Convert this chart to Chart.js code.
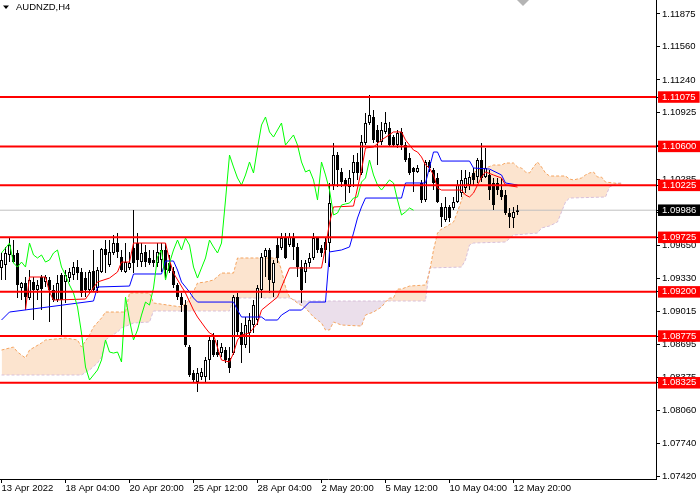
<!DOCTYPE html>
<html><head><meta charset="utf-8">
<script src="https://cdn.jsdelivr.net/npm/chart.js@4.4.1/dist/chart.umd.min.js"></script>
<style>html,body{margin:0;padding:0;background:#fff}#wrap{position:relative;width:700px;height:500px}</style>
</head><body><div id="wrap"><canvas id="c"></canvas></div>
<script>
const symbolTitle = 'AUDNZD,H4';
const dateLabels = ['13 Apr 2022','18 Apr 04:00','20 Apr 20:00','25 Apr 12:00','28 Apr 04:00','2 May 20:00','5 May 12:00','10 May 04:00','12 May 20:00'];
const dateTickBars = [0,16,32,48,64,80,96,112,128];
const priceTicks = [1.11875,1.11560,1.11240,1.10925,1.10605,1.10285,1.09965,1.09650,1.09330,1.09015,1.08695,1.08375,1.08060,1.07740,1.07420];
const levels = [1.11075,1.10600,1.10225,1.09725,1.09200,1.08775,1.08325];
const lastPrice = 1.09986;

const open = [1.09430,1.09458,1.09555,1.09555,1.09574,1.09237,1.09285,1.09141,1.09295,1.09218,
1.09343,1.09295,1.09314,1.09218,1.09121,1.09362,1.09295,1.09333,1.09362,1.09439,
1.09391,1.09333,1.09218,1.09401,1.09237,1.09391,1.09612,1.09458,1.09574,1.09670,
1.09535,1.09391,1.09430,1.09622,1.09670,1.09487,1.09584,1.09526,1.09507,1.09478,
1.09507,1.09603,1.09478,1.09401,1.09266,1.09150,1.09073,1.08669,1.08419,1.08332,
1.08380,1.08380,1.08544,1.08737,1.08621,1.08611,1.08640,1.08563,1.08611,1.09150,
1.08814,1.08688,1.08804,1.08881,1.08929,1.09218,1.09535,1.09603,1.09285,1.09651,
1.09622,1.09718,1.09651,1.09718,1.09632,1.09439,1.09391,1.09478,1.09526,1.09718,
1.09622,1.09680,1.09670,1.10228,1.10517,1.10354,1.10277,1.10209,1.10344,1.10450,
1.10344,1.10633,1.10825,1.10883,1.10758,1.10642,1.10739,1.10777,1.10690,1.10613,
1.10739,1.10613,1.10488,1.10392,1.10354,1.10248,1.10084,1.10450,1.10373,1.10296,
1.10017,1.09892,1.10017,1.10007,1.10065,1.10151,1.10200,1.10228,1.10344,1.10305,
1.10469,1.10305,1.10325,1.10248,1.10248,1.10180,1.10132,1.09959,1.09911,1.09969];
const high = [1.09574,1.09632,1.09718,1.09699,1.09603,1.09295,1.09343,1.09410,1.09343,1.09314,
1.09362,1.09362,1.09343,1.09266,1.09362,1.09381,1.09410,1.09430,1.09487,1.09507,
1.09430,1.09391,1.09410,1.09603,1.09439,1.09622,1.09699,1.09699,1.09747,1.09766,
1.09603,1.09670,1.09584,1.09988,1.09766,1.09670,1.09651,1.09603,1.09603,1.09670,
1.09670,1.09670,1.09555,1.09439,1.09285,1.09189,1.09121,1.08688,1.08448,1.08467,
1.08467,1.08573,1.08785,1.08804,1.08737,1.08708,1.08669,1.08669,1.09170,1.09189,
1.08900,1.08958,1.08996,1.09121,1.09266,1.09574,1.09622,1.09622,1.09507,1.09728,
1.09766,1.09766,1.09766,1.09766,1.09670,1.09507,1.09507,1.09574,1.09766,1.09728,
1.09651,1.09728,1.10248,1.10633,1.10546,1.10392,1.10296,1.10373,1.10517,1.10536,
1.10710,1.10921,1.11095,1.10950,1.10806,1.10835,1.10931,1.10835,1.10710,1.10758,
1.10777,1.10642,1.10536,1.10402,1.10421,1.10277,1.10469,1.10469,1.10392,1.10344,
1.10055,1.10113,1.10036,1.10113,1.10277,1.10373,1.10373,1.10354,1.10392,1.10488,
1.10633,1.10585,1.10373,1.10296,1.10296,1.10296,1.10180,1.10007,1.10017,1.10036];
const low = [1.09314,1.09314,1.09487,1.09478,1.09141,1.09121,1.09025,1.09121,1.08929,1.09121,
1.09025,1.09247,1.08910,1.09102,1.09102,1.08765,1.09093,1.09295,1.09314,1.09314,
1.09150,1.09150,1.09189,1.09199,1.09189,1.09381,1.09381,1.09439,1.09555,1.09526,
1.09391,1.09381,1.09410,1.09381,1.09439,1.09439,1.09439,1.09458,1.09439,1.09439,
1.09391,1.09333,1.09381,1.09237,1.09121,1.09006,1.08669,1.08380,1.08323,1.08236,
1.08352,1.08332,1.08352,1.08573,1.08573,1.08573,1.08515,1.08419,1.08592,1.08765,
1.08515,1.08660,1.08611,1.08804,1.08881,1.09141,1.09343,1.09189,1.09150,1.09478,
1.09603,1.09516,1.09632,1.09507,1.09343,1.09093,1.09285,1.09439,1.09507,1.09574,
1.09535,1.09478,1.09439,1.10180,1.10209,1.10209,1.10065,1.10151,1.10209,1.10277,
1.10325,1.10613,1.10806,1.10633,1.10421,1.10613,1.10719,1.10594,1.10594,1.10585,
1.10565,1.10450,1.10325,1.10161,1.10344,1.10055,1.10065,1.10354,1.10180,1.10055,
1.09824,1.09872,1.09872,1.09988,1.10055,1.10113,1.10151,1.10180,1.10228,1.10248,
1.10257,1.10296,1.10084,1.09988,1.10132,1.10084,1.09940,1.09815,1.09815,1.09940];
const close = [1.09507,1.09574,1.09651,1.09487,1.09266,1.09285,1.09150,1.09314,1.09218,1.09266,
1.09227,1.09343,1.09218,1.09121,1.09285,1.09121,1.09362,1.09391,1.09439,1.09381,
1.09189,1.09218,1.09391,1.09218,1.09410,1.09612,1.09555,1.09584,1.09670,1.09584,
1.09410,1.09487,1.09478,1.09478,1.09507,1.09574,1.09487,1.09478,1.09478,1.09584,
1.09603,1.09410,1.09401,1.09266,1.09150,1.09073,1.08688,1.08400,1.08352,1.08419,
1.08429,1.08544,1.08737,1.08592,1.08592,1.08669,1.08544,1.08467,1.09150,1.08814,
1.08688,1.08881,1.08929,1.09073,1.09237,1.09535,1.09603,1.09314,1.09478,1.09526,
1.09718,1.09526,1.09728,1.09632,1.09439,1.09218,1.09478,1.09526,1.09718,1.09603,
1.09574,1.09603,1.10055,1.10517,1.10373,1.10257,1.10228,1.10296,1.10450,1.10344,
1.10642,1.10825,1.10902,1.10662,1.10642,1.10758,1.10825,1.10613,1.10613,1.10729,
1.10613,1.10469,1.10344,1.10354,1.10392,1.10084,1.10450,1.10392,1.10248,1.10065,
1.09920,1.10017,1.09911,1.10065,1.10228,1.10277,1.10296,1.10305,1.10277,1.10469,
1.10296,1.10392,1.10180,1.10036,1.10180,1.10113,1.09959,1.09920,1.09969,1.09986];

const tenkanBar = [6,7,11,12,13,21,24,27,29,30,32,33,41,42,43,46,48,49,51,52,53,55,57,58,59,60,62,64,65,69,70,72,80,81,82,83,88,90,91,93,95,98,100,101,102,103,104,105,106,107,108,109,110,115,116,117,118,119,120,121,123,125,126,129];
const tenkanVal = [1.09025,1.09343,1.09343,1.09199,1.09121,1.09131,1.09295,1.09333,1.09391,1.09487,1.09487,1.09670,1.09670,1.09507,1.09381,1.09189,1.09025,1.08958,1.08852,1.08804,1.08785,1.08544,1.08525,1.08611,1.08737,1.08785,1.08804,1.08900,1.09025,1.09150,1.09247,1.09430,1.09430,1.09632,1.09863,1.10017,1.10026,1.10373,1.10585,1.10594,1.10662,1.10739,1.10739,1.10662,1.10613,1.10565,1.10546,1.10498,1.10421,1.10392,1.10325,1.10200,1.10180,1.10180,1.10132,1.10113,1.10151,1.10228,1.10305,1.10354,1.10325,1.10296,1.10228,1.10209];

const kijunBar = [0,2,23,24,32,33,40,41,43,44,45,47,48,49,58,59,60,65,66,69,70,72,75,77,81,82,85,87,88,89,90,91,100,101,106,108,109,110,117,118,122,125,126,129];
const kijunVal = [1.08929,1.09006,1.09112,1.09247,1.09256,1.09372,1.09372,1.09497,1.09497,1.09410,1.09295,1.09199,1.09141,1.09102,1.09102,1.09025,1.08958,1.08958,1.08929,1.08929,1.08977,1.09025,1.09025,1.09102,1.09102,1.09584,1.09603,1.09632,1.09766,1.09911,1.10017,1.10103,1.10103,1.10248,1.10248,1.10546,1.10546,1.10459,1.10459,1.10392,1.10382,1.10325,1.10248,1.10228];

const chikouBar = [0,2,3,4,5,6,7,8,9,10,11,12,13,14,15,16,17,18,19,20,21,22,23,24,25,26,27,28,29,30,31,32,33,34,35,36,37,38,39,40,41,42,43,44,45,46,47,48,49,50,51,52,53,54,55,56,57,58,59,60,61,62,63,64,65,66,67,68,69,70,71,72,73,74,75,76,77,78,79,80,81,82,83,84,85,86,87,88,89,90,91,92,93,94,95,96,97,98,99,100,101,102,103];
const chikouVal = [1.09574,1.09670,1.09478,1.09439,1.09487,1.09439,1.09670,1.09555,1.09526,1.09555,1.09487,1.09507,1.09574,1.09603,1.09439,1.09362,1.09266,1.09189,1.09054,1.08804,1.08477,1.08352,1.08400,1.08448,1.08544,1.08737,1.08621,1.08611,1.08621,1.08525,1.09150,1.08929,1.08737,1.08833,1.08977,1.09102,1.09073,1.09237,1.09535,1.09603,1.09314,1.09478,1.09603,1.09699,1.09603,1.09718,1.09651,1.09439,1.09333,1.09430,1.09526,1.09699,1.09632,1.09574,1.09670,1.10084,1.10517,1.10402,1.10296,1.10228,1.10325,1.10450,1.10344,1.10585,1.10806,1.10883,1.10739,1.10690,1.10758,1.10825,1.10613,1.10662,1.10710,1.10613,1.10450,1.10354,1.10373,1.10277,1.10084,1.10450,1.10325,1.10180,1.09940,1.09959,1.10036,1.10046,1.10055,1.10103,1.10113,1.10257,1.10296,1.10469,1.10325,1.10228,1.10180,1.10228,1.10277,1.10248,1.10084,1.09940,1.09969,1.10007,1.09986];

const spanABar = [0,3,4,6,7,10,11,16,19,20,22,23,25,26,31,32,37,38,45,47,49,51,53,55,58,59,69,70,71,72,73,74,76,78,80,81,82,83,85,90,91,93,95,96,97,98,99,100,102,106,107,108,109,110,111,113,114,115,116,118,119,121,123,125,126,128,129,130,131,132,133,134,135,136,137,141,142,143,145,146,147,148,149,150,151,153,155];
const spanAVal = [1.08640,1.08669,1.08621,1.08563,1.08640,1.08708,1.08737,1.08756,1.08737,1.08669,1.08785,1.08862,1.08948,1.09006,1.09006,1.09189,1.09189,1.09093,1.09054,1.09121,1.09285,1.09295,1.09314,1.09381,1.09381,1.09526,1.09526,1.09410,1.09247,1.09150,1.09121,1.09093,1.09045,1.08958,1.08900,1.08833,1.08833,1.08910,1.08881,1.08871,1.08977,1.09006,1.09054,1.09102,1.09141,1.09141,1.09227,1.09227,1.09256,1.09266,1.09391,1.09603,1.09766,1.09805,1.09824,1.09872,1.09969,1.10084,1.10209,1.10344,1.10373,1.10392,1.10421,1.10421,1.10440,1.10440,1.10402,1.10392,1.10354,1.10344,1.10402,1.10450,1.10402,1.10344,1.10315,1.10315,1.10286,1.10277,1.10296,1.10325,1.10344,1.10354,1.10305,1.10305,1.10257,1.10248,1.10238];

const spanBBar = [0,20,22,24,25,26,27,29,30,33,37,38,57,58,72,74,106,107,115,116,117,118,126,128,134,135,137,139,140,141,142,151,152,154,155];
const spanBVal = [1.08400,1.08400,1.08448,1.08515,1.08573,1.08737,1.08765,1.08814,1.08852,1.08900,1.08910,1.09016,1.09016,1.09141,1.09141,1.09112,1.09112,1.09430,1.09439,1.09507,1.09651,1.09670,1.09680,1.09747,1.09766,1.09815,1.09834,1.09872,1.09969,1.10065,1.10103,1.10113,1.10209,1.10248,1.10248];

const xMin = -0.375, xMax = 163.625;
const yMin = 1.07399, yMax = 1.12009;
const FONT = {family: 'Liberation Sans', size: 9.5, lineHeight: 1};

const pts = (xs, ys) => xs.map((x, i) => ({x: x, y: ys[i]}));
const canvas = document.getElementById('c');
const barIdx = open.map((_, i) => i);
const lineBase = {type: 'line', pointRadius: 0, borderWidth: 1, tension: 0, fill: false};

const datasets = [
  Object.assign({}, lineBase, {label: 'Senkou A', data: pts(spanABar, spanAVal), borderColor: '#F4A460', borderDash: [3, 2],
    backgroundColor: 'rgba(244,164,96,0.3)',
    fill: {target: '+1', above: 'rgba(244,164,96,0.3)', below: 'rgba(216,191,216,0.5)'}, order: 7}),
  Object.assign({}, lineBase, {label: 'Senkou B', data: pts(spanBBar, spanBVal), borderColor: '#D8BFD8', borderDash: [3, 2], order: 7}),
  Object.assign({}, lineBase, {label: 'Bid', data: [{x: xMin, y: lastPrice}, {x: xMax, y: lastPrice}], borderColor: '#C0C0C0', order: 6}),
  {type: 'bar', label: 'wick', data: barIdx.map(i => ({x: i, y: [low[i], high[i]]})), backgroundColor: '#000', barThickness: 1,
    grouped: false, borderWidth: 0, inflateAmount: 0, order: 5},
  {type: 'bar', label: 'body', data: barIdx.map(i => ({x: i, y: [open[i], close[i]]})),
    backgroundColor: barIdx.map(i => close[i] >= open[i] ? '#FFFFFF' : '#000000'), borderColor: '#000', borderWidth: 1,
    borderSkipped: false, barThickness: 3, grouped: false, inflateAmount: 0, order: 4},
  Object.assign({}, lineBase, {label: 'Chikou', data: pts(chikouBar, chikouVal), borderColor: '#00FF00', order: 3}),
  Object.assign({}, lineBase, {label: 'Kijun', data: pts(kijunBar, kijunVal), borderColor: '#0000FF', order: 3}),
  Object.assign({}, lineBase, {label: 'Tenkan', data: pts(tenkanBar, tenkanVal), borderColor: '#FF0000', order: 3})
];
levels.forEach(v => datasets.push(Object.assign({}, lineBase, {label: 'L' + v, data: [{x: xMin, y: v}, {x: xMax, y: v}], borderColor: '#FF0000', borderWidth: 2, order: 1})));

const titlePlugin = {
  id: 'symTitle',
  afterDraw(chart) {
    const ctx = chart.ctx;
    ctx.save();
    ctx.fillStyle = '#000';
    ctx.beginPath(); ctx.moveTo(3, 5.5); ctx.lineTo(9, 5.5); ctx.lineTo(6, 9); ctx.closePath(); ctx.fill();
    ctx.font = '9.5px "Liberation Sans"';
    ctx.textBaseline = 'middle';
    ctx.fillText(symbolTitle, 16, 7.5);
    ctx.fillStyle = '#B4B4B4';
    ctx.beginPath(); ctx.moveTo(517, 0); ctx.lineTo(529, 0); ctx.lineTo(523, 6); ctx.closePath(); ctx.fill();
    ctx.restore();
  }
};

new Chart(canvas, {
  type: 'bar',
  data: {datasets: datasets},
  plugins: [titlePlugin],
  options: {
    animation: false, responsive: true, maintainAspectRatio: false, events: [],
    layout: {padding: 0},
    plugins: {legend: {display: false}, tooltip: {enabled: false}, filler: {propagate: false, drawTime: 'beforeDatasetsDraw'}},
    scales: {
      x: {
        type: 'linear', min: xMin, max: xMax, offset: false,
        afterBuildTicks: s => { s.ticks = dateTickBars.map(v => ({value: v})); },
        afterFit: s => { s.height = 21; s.paddingLeft = 0; s.paddingRight = 0; },
        grid: {drawOnChartArea: false, drawTicks: true, tickLength: 4, color: '#000', offset: false},
        border: {display: true, color: '#000', width: 1},
        ticks: {autoSkip: false, maxRotation: 0, minRotation: 0, align: 'start', padding: 1, font: FONT, color: '#000',
          callback: (v, i) => dateLabels[i]}
      },
      y: {
        type: 'linear', position: 'right', min: yMin, max: yMax,
        afterBuildTicks: s => { s.ticks = priceTicks.concat(levels, [lastPrice]).map(v => ({value: v})); },
        afterFit: s => { s.width = 44; s.paddingTop = 0; s.paddingBottom = 0; },
        grid: {drawOnChartArea: false, drawTicks: true, tickLength: 4, color: '#000'},
        border: {display: true, color: '#000', width: 1},
        ticks: {autoSkip: false, padding: 2, font: FONT,
          color: ctx => (levels.includes(ctx.tick.value) || ctx.tick.value === lastPrice) ? '#FFFFFF' : '#000000',
          showLabelBackdrop: true,
          backdropColor: ctx => levels.includes(ctx.tick.value) ? '#FF0000' : (ctx.tick.value === lastPrice ? '#000000' : 'rgba(0,0,0,0)'),
          backdropPadding: {top: 1, bottom: 1, left: 4, right: 4},
          callback: v => Number(v).toFixed(5)}
      }
    }
  }
});
</script></body></html>
